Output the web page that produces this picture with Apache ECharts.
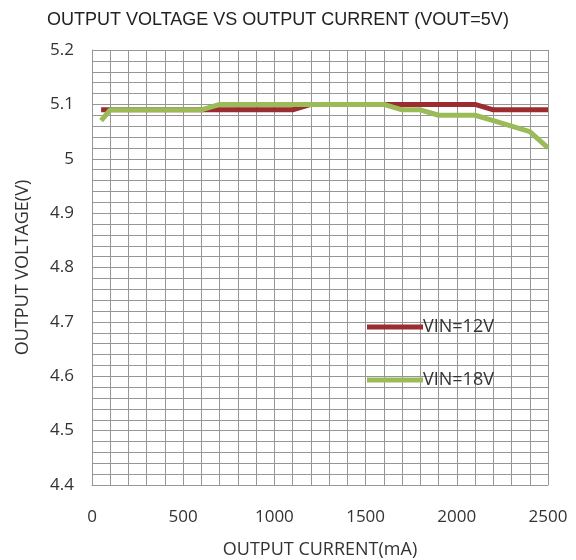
<!DOCTYPE html>
<html><head><meta charset="utf-8">
<script src="https://cdn.jsdelivr.net/npm/echarts@6/dist/echarts.min.js"></script>
<style>html,body{margin:0;padding:0;background:#fff}#c{width:576px;height:560px}</style>
</head><body><div id="c"></div>
<script>
var currentMA = [50, 100, 200, 300, 400, 500, 600, 700, 800, 900, 1000, 1100, 1200, 1300, 1400, 1500, 1600, 1700, 1800, 1900, 2000, 2100, 2200, 2300, 2400, 2500];
var vin12 = [5.09, 5.09, 5.09, 5.09, 5.09, 5.09, 5.09, 5.09, 5.09, 5.09, 5.09, 5.09, 5.10, 5.10, 5.10, 5.10, 5.10, 5.10, 5.10, 5.10, 5.10, 5.10, 5.09, 5.09, 5.09, 5.09];
var vin18 = [5.07, 5.09, 5.09, 5.09, 5.09, 5.09, 5.09, 5.10, 5.10, 5.10, 5.10, 5.10, 5.10, 5.10, 5.10, 5.10, 5.10, 5.09, 5.09, 5.08, 5.08, 5.08, 5.07, 5.06, 5.05, 5.02];
var seriesNames = ['VIN=12V', 'VIN=18V'];
var title = 'OUTPUT VOLTAGE VS OUTPUT CURRENT (VOUT=5V)';
var xTitle = 'OUTPUT CURRENT(mA)';
var yTitle = 'OUTPUT VOLTAGE(V)';

function pairs(xs, ys){ return xs.map(function(x,i){return [x, ys[i]];}); }
var gridLine = {show:true, lineStyle:{color:'#969696', width:1}};
var font = '"Open Sans", sans-serif';
var chart = echarts.init(document.getElementById('c'));
chart.setOption({
  animation:false,
  title:{text:title, left:42, top:6, textStyle:{fontFamily:'"Liberation Sans", Arial, sans-serif', fontSize:18, fontWeight:'normal', color:'#222'}},
  legend:{orient:'vertical', left:362, top:313, itemWidth:56, itemHeight:5, itemGap:35, icon:'rect',
    textStyle:{fontFamily:font, fontSize:18, color:'#333', padding:[0,0,0,-5]},
    data:seriesNames},
  grid:{left:92, right:28, top:50, bottom:75, outerBoundsMode:'none', containLabel:false},
  xAxis:{type:'value', min:0, max:2500, interval:500,
    name:xTitle, nameLocation:'middle', nameGap:56, nameTextStyle:{fontFamily:font, fontSize:18, color:'#333'},
    axisLine:{show:true, lineStyle:{color:'#969696'}}, axisTick:{show:false},
    axisLabel:{fontFamily:font, fontSize:17, color:'#333', margin:24, formatter:function(v){return String(v);}},
    splitLine:gridLine, minorTick:{show:false, splitNumber:5}, minorSplitLine:gridLine},
  yAxis:{type:'value', min:4.4, max:5.2, interval:0.1,
    name:yTitle, nameLocation:'middle', nameGap:60, nameRotate:90, nameTextStyle:{fontFamily:font, fontSize:18, color:'#333'},
    axisLine:{show:true, lineStyle:{color:'#969696'}}, axisTick:{show:false},
    axisLabel:{fontFamily:font, fontSize:17, color:'#333', margin:18},
    splitLine:gridLine, minorTick:{show:false, splitNumber:5}, minorSplitLine:gridLine},
  series:[
    {name:seriesNames[0], type:'line', data:pairs(currentMA, vin12), showSymbol:false, symbol:'none', color:'#9b2d30', lineStyle:{width:5, color:'#9b2d30'}},
    {name:seriesNames[1], type:'line', data:pairs(currentMA, vin18), showSymbol:false, symbol:'none', color:'#9bbb59', lineStyle:{width:5, color:'#9bbb59'}}
  ]
});
</script></body></html>
